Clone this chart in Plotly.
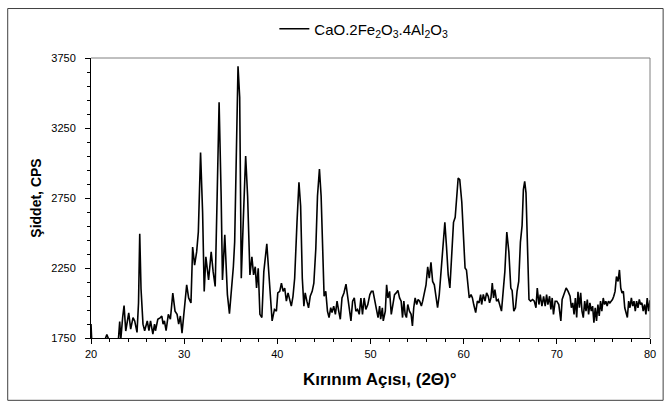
import plotly.graph_objects as go

# Diffraction angle (2-theta, degrees) and measured intensity (CPS)
two_theta = [
    20.0, 20.1, 21.3, 21.5, 21.7, 21.9, 22.9, 23.08, 23.2, 23.4, 23.55, 23.73, 23.9, 24.05,
    24.26, 24.4, 24.51, 24.69, 24.94, 25.1, 25.23, 25.37, 25.58, 25.76, 26.04, 26.22, 26.39,
    26.64, 26.82, 26.92, 27.17, 27.45, 27.6, 27.74, 27.88, 28.06, 28.3, 28.52, 28.78, 29.02,
    29.24, 29.41, 29.59, 29.77,
    30.02, 30.27, 30.48, 30.73, 30.91, 31.12, 31.34, 31.52, 31.76, 31.98, 32.15, 32.33,
    32.62, 32.9, 33.11, 33.33, 33.54, 33.75, 33.97, 34.11, 34.36, 34.5, 34.64, 34.86, 35.1,
    35.28, 35.42, 35.6, 35.78, 35.96, 36.13, 36.35, 36.6, 36.81, 37.06, 37.27, 37.45, 37.63,
    37.77, 37.95, 38.13, 38.34, 38.55, 38.87, 39.08, 39.26, 39.44, 39.69, 39.9,
    40.05, 40.26, 40.44, 40.62, 40.79, 40.97, 41.15, 41.33, 41.5, 41.68, 41.86, 42.11, 42.32,
    42.5, 42.68, 42.85, 42.99, 43.17, 43.35, 43.53, 43.74, 43.92, 44.13, 44.31, 44.52, 44.7,
    44.88, 45.02, 45.2, 45.38, 45.55, 45.73, 45.87, 46.05, 46.23, 46.41, 46.59, 46.76, 46.94,
    47.15, 47.37, 47.54, 47.72, 47.9, 48.08, 48.26, 48.43, 48.61, 48.79, 48.97, 49.14, 49.32,
    49.5, 49.71, 49.93,
    50.1, 50.27, 50.45, 50.63, 50.81, 50.98, 51.09, 51.27, 51.37, 51.59, 51.73, 51.87, 52.05,
    52.23, 52.41, 52.58, 52.76, 52.94, 53.12, 53.29, 53.44, 53.58, 53.72, 53.86, 54.0, 54.18,
    54.36, 54.5, 54.64, 54.79, 54.96, 55.11, 55.28, 55.46, 55.6, 55.78, 55.96, 56.14, 56.31,
    56.49, 56.67, 56.85, 57.02, 57.2, 57.38, 57.56, 57.74, 57.98, 58.16, 58.34, 58.52, 58.7,
    58.91, 59.09, 59.26, 59.41, 59.58, 59.8,
    60.0, 60.15, 60.3, 60.45, 60.6, 60.79, 60.94, 61.08, 61.29, 61.47, 61.65, 61.82, 61.93,
    62.11, 62.29, 62.46, 62.64, 62.78, 62.93, 63.07, 63.21, 63.35, 63.53, 63.71, 63.89, 64.06,
    64.24, 64.42, 64.63, 64.85, 65.06, 65.2, 65.38, 65.56, 65.73, 65.91, 66.09, 66.27, 66.41,
    66.55, 66.69, 66.84, 67.01, 67.19, 67.4, 67.58, 67.76, 67.9, 68.08, 68.22, 68.4, 68.58,
    68.75, 68.9, 69.04, 69.22, 69.36, 69.5, 69.64, 69.82,
    70.0, 70.21, 70.43, 70.57, 70.78, 71.0, 71.21, 71.42, 71.56, 71.71, 71.85, 71.99, 72.13,
    72.27, 72.42, 72.56, 72.7, 72.84, 72.99, 73.13, 73.27, 73.41, 73.55, 73.7, 73.84, 73.98,
    74.12, 74.26, 74.41, 74.55, 74.69, 74.83, 74.98, 75.12, 75.26, 75.4, 75.54, 75.69, 75.83,
    75.97, 76.11, 76.25, 76.4, 76.57, 76.72, 76.86, 77.0, 77.14, 77.29, 77.43, 77.57, 77.71,
    77.85, 78.0, 78.14, 78.28, 78.42, 78.56, 78.71, 78.85, 78.99, 79.13, 79.27, 79.42, 79.56,
    79.7, 79.85, 80.0,
]

intensity = [
    1850, 1700, 1700, 1745, 1775, 1740, 1700, 1867, 1740, 1900, 1982, 1800, 1880, 1930,
    1814, 1860, 1896, 1872, 1790, 2000, 2494, 2100, 1849, 1802, 1872, 1802, 1872,
    1778, 1849, 1802, 1884, 1896, 1907, 1849, 1872, 1802, 1919, 1884, 2071, 1942,
    1919, 1849, 1907, 1785,
    1966, 2130, 2036, 2001, 2400, 2271, 2365, 2506, 3074, 2647, 2083, 2330,
    2165, 2365, 2224, 2118, 2764, 3433, 2764, 2165, 2487, 2318, 2060, 1924, 2107,
    2259, 2435, 3233, 3691, 3468, 2177, 2600, 3050, 2764, 2201, 2330, 2201, 2259,
    2107, 2248, 1919, 1896, 2224, 2423, 2224, 2013, 1872, 1954, 1942,
    2072, 2083, 2142, 2083, 2107, 2013, 2072, 2013, 1978, 2048, 2177, 2576, 2862,
    2693, 2177, 1978, 2072, 2013, 1966, 2048, 2083, 2142, 2388, 2764, 2956, 2764,
    2295, 2048, 2083, 1942, 1896, 1966, 1931, 1978, 1919, 2013, 1942, 1884, 2036,
    2072, 2135, 2036, 1966, 1872, 2013, 2036, 1942, 1954, 1919, 2036, 1919, 2036,
    1954, 1989, 2060,
    2083, 2083, 2013, 1966, 1896, 1978, 1884, 1966, 1872, 1942, 2130, 2036, 2083,
    1919, 2013, 2060, 2072, 2090, 2036, 2013, 1896, 2013, 1919, 1896, 1989, 1942,
    1919, 1837, 1966, 2036, 1989, 2025, 2013, 1978, 2013, 2083, 2130, 2259, 2177,
    2290, 2154, 2130, 2036, 1966, 2060, 2224, 2423, 2576, 2400, 2201, 2107, 2318,
    2576, 2612, 2787, 2893, 2881, 2720,
    2450, 2250, 2236, 2130, 2036, 2060, 2036, 1989, 1931, 2013, 2001, 2060, 1989,
    2062, 2013, 2072, 2048, 2001, 2036, 2142, 2036, 2095, 2013, 2025, 1989, 1942,
    2083, 2224, 2506, 2365, 2107, 2090, 1942, 1966, 2083, 2154, 2435, 2553, 2811,
    2869, 2787, 2412, 2025, 2013, 2025, 2013, 1966, 2107, 1989, 2060, 1978, 2048,
    1978, 2060, 1989, 2048, 1954, 2036, 1919, 2013,
    2013, 1989, 1872, 2025, 2072, 2107, 2083, 2048, 1966, 2001, 1919, 2036, 1896,
    2080, 1966, 2072, 1942, 1896, 2013, 1942, 2025, 1919, 2001, 1942, 1978, 1860,
    1966, 1872, 1989, 1907, 2013, 1942, 2036, 1989, 2013, 1978, 2013, 2001, 2013,
    2025, 2048, 2083, 2189, 2154, 2236, 2107, 2072, 2083, 1966, 1919, 1896, 2013,
    1966, 2036, 1978, 2013, 1942, 2013, 1966, 2025, 1989, 2001, 1942, 1989, 1919,
    2036, 1942, 2020,
]

series_name = "CaO.2Fe<sub>2</sub>O<sub>3</sub>.4Al<sub>2</sub>O<sub>3</sub>"
x_title = "<b>Kırınım Açısı, (2Θ)°</b>"
y_title = "<b>Şiddet, CPS</b>"
x_ticks = [20, 30, 40, 50, 60, 70, 80]
y_ticks = [1750, 2250, 2750, 3250, 3750]

FONT = "Liberation Sans, Arial, sans-serif"

fig = go.Figure()
fig.add_trace(go.Scatter(
    x=two_theta, y=intensity, mode="lines", name=series_name,
    line=dict(color="black", width=1.6),
    showlegend=True,
))

axis_font = dict(family=FONT, size=11, color="black")

fig.update_layout(
    width=668, height=404,
    margin=dict(l=91, r=15, t=55, b=66),
    paper_bgcolor="white", plot_bgcolor="white",
    font=dict(family=FONT, color="black"),
    legend=dict(
        x=0.328, xanchor="left", y=1.1035, yanchor="middle",
        font=dict(family=FONT, size=15, color="black"),
        bgcolor="rgba(0,0,0,0)", borderwidth=0,
    ),
    xaxis=dict(
        range=[20, 80], tickvals=x_ticks, ticktext=[str(v) for v in x_ticks],
        showgrid=False, zeroline=False,
        showline=True, linecolor="black", linewidth=1,
        ticks="outside", ticklen=5, tickcolor="black", tickwidth=1,
        minor=dict(dtick=2, ticks="outside", ticklen=3, tickcolor="black", showgrid=False),
        tickfont=axis_font, ticklabelstandoff=1,
    ),
    yaxis=dict(
        range=[1750, 3750], tickvals=y_ticks, ticktext=[str(v) for v in y_ticks],
        showgrid=False, zeroline=False,
        showline=True, linecolor="black", linewidth=1,
        ticks="outside", ticklen=5, tickcolor="black", tickwidth=1,
        minor=dict(tick0=1750, dtick=100, ticks="outside", ticklen=3, tickcolor="black", showgrid=False),
        tickfont=axis_font, ticklabelstandoff=7,
        title=dict(text=y_title, font=dict(family=FONT, size=14, color="black"), standoff=6),
    ),
)

# X-axis title placed as an annotation below the tick labels
fig.add_annotation(
    text=x_title, xref="paper", yref="paper", x=0.5166, y=-0.148,
    xanchor="center", yanchor="middle", showarrow=False,
    font=dict(family=FONT, size=17, color="black"),
)

# Plot-area frame (top and right edges) and the outer chart border
fig.add_shape(type="line", xref="paper", yref="paper", x0=0, x1=1, y0=1, y1=1,
              line=dict(color="#808080", width=1))
fig.add_shape(type="line", xref="paper", yref="paper", x0=1, x1=1, y0=0, y1=1,
              line=dict(color="#808080", width=1))
fig.add_shape(type="rect", xref="paper", yref="paper",
              x0=-0.149, x1=1.0235, y0=-0.2226, y1=1.1767,
              line=dict(color="#404040", width=1))

fig.write_html("out.html")
